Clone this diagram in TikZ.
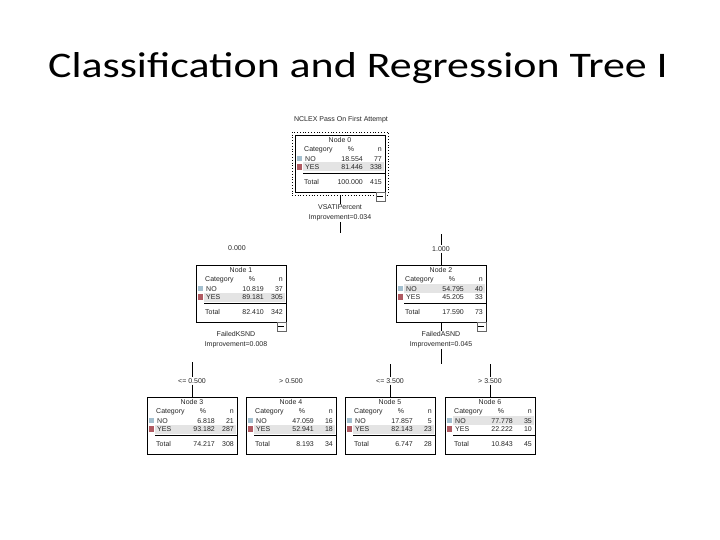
\documentclass[tikz,border=0pt]{standalone}
\usepackage{fontspec}
\setmainfont{Carlito}
\newfontfamily\boxfont{Liberation Sans}
\usetikzlibrary{calc}
\definecolor{nocol}{HTML}{A3BFCF}
\definecolor{yescol}{HTML}{B05A62}
\definecolor{hlgray}{HTML}{E4E4E4}
\tikzset{
  titlestyle/.style={font=\fontsize{36}{40}\selectfont, inner sep=0pt, text=black},
  boxframe/.style={draw=black, line width=0.7pt, minimum width=90pt, minimum height=57pt, inner sep=0pt, outer sep=0pt},
  selframe/.style={draw=black, dotted, line width=0.8pt, minimum width=96pt, minimum height=63pt, inner sep=0pt, outer sep=0pt},
  celltext/.style={font=\boxfont\fontsize{7}{8}\selectfont, inner sep=0pt, text height=5.2pt, text depth=0pt, text=black!85},
  lbl/.style={font=\boxfont\fontsize{7}{10}\selectfont, inner sep=1pt, align=center, text=black!85},
  conn/.style={draw=black, line width=0.7pt},
  sepline/.style={draw=black, line width=0.6pt},
  iconbox/.style={draw=black!60, fill=white, line width=0.5pt, minimum size=9pt, inner sep=0pt},
  icondash/.style={draw=black, line width=0.6pt}
}
\newcommand{\treebox}[8]{%
  \begin{scope}[shift={#2}]
    \fill[hlgray] (8,#4-4.5) rectangle (89.4,#4+4.5);
    \node[boxframe,anchor=north west] (#1) at (0,0) {};
    \node[celltext] (#1-t) at (45,5) {Node #3};
    \node[celltext,anchor=west] (#1-c) at (9,13.5) {Category};
    \node[celltext] (#1-p) at (56,13.5) {\%};
    \node[celltext,anchor=east] (#1-n) at (87,13.5) {n};
    \fill[nocol] (2,20.8) rectangle (7,26.2);
    \node[celltext,anchor=west] (#1-no) at (10,23.5) {NO};
    \node[celltext,anchor=east] (#1-nop) at (68,23.5) {#5};
    \node[celltext,anchor=east] (#1-non) at (87,23.5) {#6};
    \fill[yescol] (2,29.3) rectangle (7,34.7);
    \node[celltext,anchor=west] (#1-yes) at (10,32) {YES};
    \node[celltext,anchor=east] (#1-yesp) at (68,32) {#7};
    \node[celltext,anchor=east] (#1-yesn) at (87,32) {#8};
    \draw[sepline] (8,38.5) -- (90,38.5);
  \end{scope}}
\newcommand{\boxtotal}[3]{%
  \begin{scope}[shift={(#1.north west)}]
    \node[celltext,anchor=west] (#1-tot) at (9,47) {Total};
    \node[celltext,anchor=east] (#1-totp) at (68,47) {#2};
    \node[celltext,anchor=east] (#1-totn) at (87,47) {#3};
  \end{scope}}
\newcommand{\collapseicon}[1]{%
  \node[iconbox,anchor=north east] (#1-icon) at (#1.south east) {};
  \draw[icondash] ($(#1-icon.west)+(1.8pt,0)$) -- ($(#1-icon.east)+(-1.8pt,0)$);}
\begin{document}
\begin{tikzpicture}[x=1pt,y=-1pt]
\useasboundingbox (0,0) rectangle (720,540);
\fill[white] (0,0) rectangle (720,540);
\node[titlestyle, anchor=base] (title) at (358,78) {\scalebox{1.22}[1]{Classification and Regression Tree I}};
\node[lbl] (target) at (341,120) {NCLEX Pass On First Attempt};

% root
\treebox{root}{(295,135)}{0}{32}{18.554}{77}{81.446}{338}
\boxtotal{root}{100.000}{415}
\node[selframe] (rootsel) at (root.center) {};
\collapseicon{root}
\node[lbl] (rs) at (340,213) {VSATIPercent\\Improvement=0.034};
\draw[conn] (rootsel.south) -- (rs.north);
\coordinate (rootdrop) at (340,233);
\draw[conn] (rs.south) -- (rootdrop);

% level 1
\treebox{n1}{(196,265)}{1}{32}{10.819}{37}{89.181}{305}
\boxtotal{n1}{82.410}{342}
\collapseicon{n1}
\treebox{n2}{(396,265)}{2}{23.5}{54.795}{40}{45.205}{33}
\boxtotal{n2}{17.590}{73}
\collapseicon{n2}
\node[lbl] (e1) at (237,248) {0.000};
\node[lbl] (e2) at (441,249) {1.000};
\coordinate (n2top) at (441,234);
\draw[conn] (n2top) -- (e2.north);
\draw[conn] (e2.south) -- (n2.north);

% splits of level 1
\node[lbl] (s1) at (236,340) {FailedKSND\\Improvement=0.008};
\node[lbl] (s2) at (441,340) {FailedASND\\Improvement=0.045};
\draw[conn] (n2.south) -- (s2.north);
\coordinate (s2drop) at (441,364);
\draw[conn] (s2.south) -- (s2drop);

% leaves
\treebox{n3}{(147,397)}{3}{32}{6.818}{21}{93.182}{287}
\boxtotal{n3}{74.217}{308}
\treebox{n4}{(246,397)}{4}{32}{47.059}{16}{52.941}{18}
\boxtotal{n4}{8.193}{34}
\treebox{n5}{(345,397)}{5}{32}{17.857}{5}{82.143}{23}
\boxtotal{n5}{6.747}{28}
\treebox{n6}{(445,397)}{6}{23.5}{77.778}{35}{22.222}{10}
\boxtotal{n6}{10.843}{45}

\node[lbl] (l3) at (192,381) {<= 0.500};
\node[lbl] (l4) at (291,381) {> 0.500};
\node[lbl] (l5) at (390,381) {<= 3.500};
\node[lbl] (l6) at (490,381) {> 3.500};
\coordinate (l3top) at (192,362);
\coordinate (l5top) at (390,364);
\coordinate (l6top) at (490,364);
\draw[conn] (l3top) -- (l3.north);
\draw[conn] (l3.south) -- (l3.south |- n3.north);
\draw[conn] (l5top) -- (l5.north);
\draw[conn] (l5.south) -- (l5.south |- n5.north);
\draw[conn] (l6top) -- (l6.north);
\draw[conn] (l6.south) -- (l6.south |- n6.north);
\end{tikzpicture}
\end{document}
